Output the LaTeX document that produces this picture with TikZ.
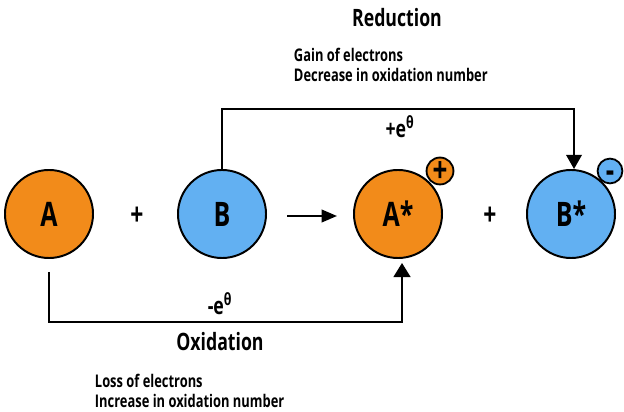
\documentclass[tikz,border=0pt]{standalone}
\usepackage{fontspec}
\setmainfont{Open Sans}[FakeStretch=0.74]
\usepackage{tikz}
\usetikzlibrary{arrows.meta, positioning}

\definecolor{oxorange}{RGB}{242,139,26}
\definecolor{redblue}{RGB}{98,176,242}

\tikzset{
  species/.style={circle, draw=black, line width=1.4pt, minimum size=2.2cm, inner sep=0pt,
    font=\fontsize{24}{24}\selectfont\bfseries},
  badge/.style={circle, draw=black, line width=1.3pt, minimum size=0.62cm, inner sep=0pt,
    text height=16pt, text depth=0pt, font=\fontsize{25}{25}\selectfont\bfseries},
  sign/.style={font=\fontsize{22}{22}\selectfont\bfseries},
  charge/.style={font=\fontsize{17}{17}\selectfont\bfseries},
  title/.style={font=\fontsize{17}{17}\selectfont\bfseries},
  note/.style={align=left, font=\fontsize{12.4}{14}\selectfont\bfseries},
  wire/.style={line width=1.4pt},
}

\begin{document}
\begin{tikzpicture}[x=0.025cm, y=-0.025cm]
\useasboundingbox (0,0) rectangle (624,412);

% reactants and products
\node[species, fill=oxorange] (a) at (49,214) {A};
\node[species, fill=redblue] (b) at (222,214) {B};
\node[species, fill=oxorange] (astar) at (398,214) {A*};
\node[species, fill=redblue] (bstar) at (571,214) {B*};
\node[sign] (plus1) at (137,216) {+};
\node[sign] (plus2) at (490,216) {+};

% charges
\node[badge, fill=oxorange] (chgA) at (440,171) {+};
\node[badge, fill=redblue] (chgB) at (610,171) {-};

% reaction arrow
\coordinate (rstart) at (287,216);
\coordinate (rend) at (337,216);
\draw[wire, -{Triangle[length=11pt, width=9pt]}] (rstart) -- (rend);

% reduction path
\coordinate (redtop) at (574,109);
\draw[wire, -{Triangle[length=10pt, width=11pt]}] (b.north) |- (redtop) -- (redtop |- bstar.north);
\node[charge] (gain) at (400,127) {+e\textsuperscript{θ}};
\node[title] (redlabel) at (397,18) {Reduction};
\node[note, anchor=west] (rednote) at (289,65) {Gain of electrons\\Decrease in oxidation number};

% oxidation path
\coordinate (oxstart) at (49,272);
\coordinate (oxend) at (402,263);
\draw[wire, -{Triangle[length=10pt, width=12pt]}] (oxstart) |- (oxend |- 0,322) -- (oxend);
\node[charge] (loss) at (220,304) {-e\textsuperscript{θ}};
\node[title] (oxlabel) at (220,342) {Oxidation};
\node[note, anchor=west] (oxnote) at (90,391) {Loss of electrons\\Increase in oxidation number};
\end{tikzpicture}
\end{document}
